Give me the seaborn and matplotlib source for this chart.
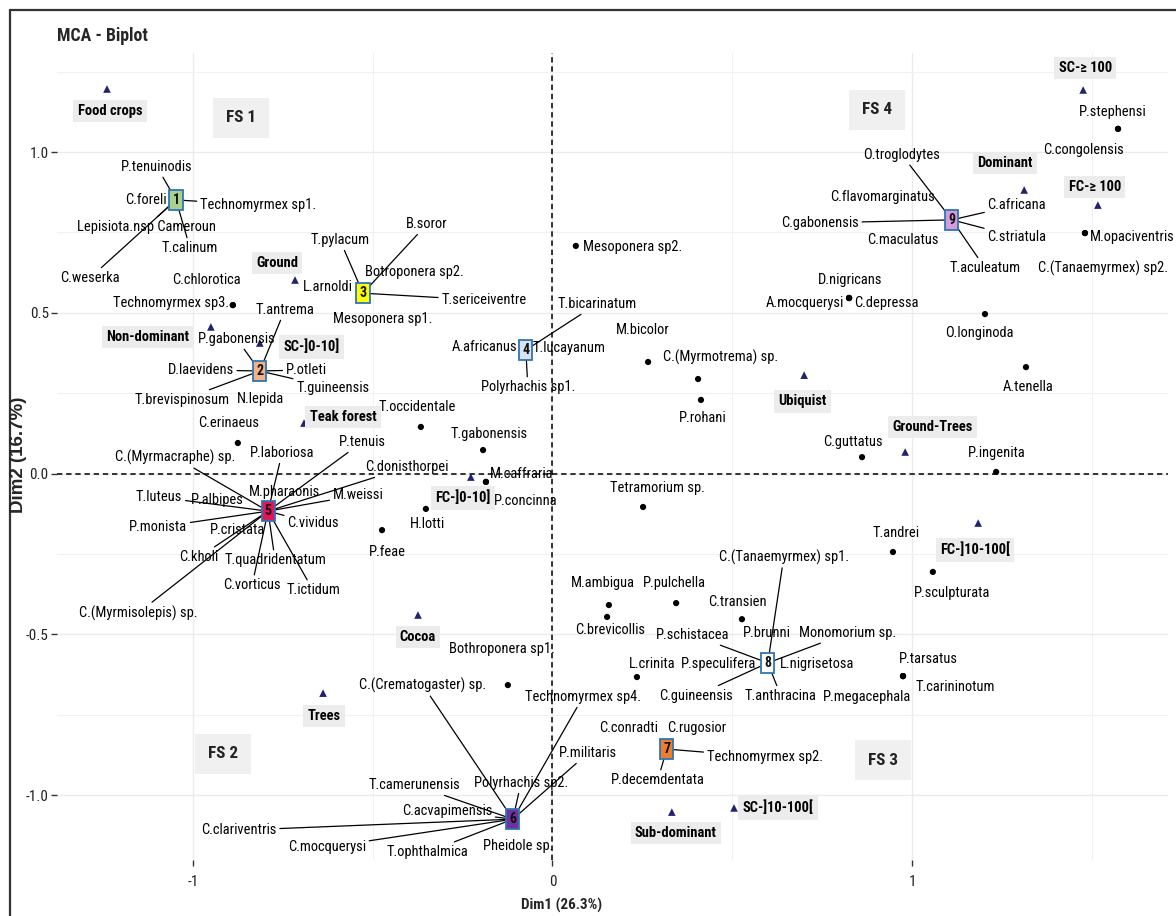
import numpy as np
import pandas as pd
import matplotlib
matplotlib.use("Agg")
import matplotlib.pyplot as plt
import seaborn as sns
from matplotlib import font_manager as fm
from matplotlib.lines import Line2D

# ---------------- data ----------------
# supplementary categories (triangles)
sup_names = ["Food crops", "Ground", "Non-dominant", "SC-]0-10]", "Teak forest", "FC-]0-10]",
             "Cocoa", "Trees", "Ubiquist", "Ground-Trees", "FC-]10-100[", "Sub-dominant",
             "SC-]10-100[", "Dominant", "FC-≥ 100", "SC-≥ 100"]
sup_dim1 = [-1.239, -0.716, -0.950, -0.814, -0.691, -0.227, -0.374, -0.638,
            0.700, 0.981, 1.184, 0.332, 0.505, 1.312, 1.517, 1.476]
sup_dim2 = [1.196, 0.602, 0.456, 0.406, 0.157, -0.011, -0.440, -0.683,
            0.306, 0.067, -0.154, -1.053, -1.040, 0.882, 0.835, 1.193]

# individual species points (dots)
sp_names = ["Technomyrmex sp3.", "C.chlorotica", "C.erinaeus", "T.occidentale", "T.gabonensis",
            "M.caffraria", "P.concinna", "H.lotti", "P.feae", "Mesoponera sp2.", "M.bicolor",
            "C.(Myrmotrema) sp.", "P.rohani", "Tetramorium sp.", "A.mocquerysi", "D.nigricans",
            "C.depressa", "O.longinoda", "A.tenella", "C.guttatus", "P.ingenita", "T.andrei",
            "P.sculpturata", "P.stephensi", "C.congolensis", "M.opaciventris",
            "C.(Tanaemyrmex) sp2.", "M.ambigua", "C.brevicollis", "P.pulchella", "C.transien",
            "L.crinita", "Bothroponera sp1.", "P.tarsatus", "T.carininotum", "P.megacephala"]
sp_dim1 = [-0.889, -0.889, -0.875, -0.366, -0.193, -0.185, -0.185, -0.352, -0.474, 0.065,
           0.266, 0.405, 0.413, 0.252, 0.825, 0.825, 0.825, 1.203, 1.317, 0.861, 1.234,
           0.947, 1.058, 1.573, 1.573, 1.481, 1.481, 0.157, 0.152, 0.344, 0.527, 0.235,
           -0.124, 0.975, 0.975, 0.975]
sp_dim2 = [0.524, 0.524, 0.095, 0.145, 0.073, -0.026, -0.026, -0.110, -0.176, 0.708,
           0.347, 0.294, 0.229, -0.104, 0.546, 0.546, 0.546, 0.496, 0.331, 0.051, 0.005,
           -0.244, -0.306, 1.072, 1.072, 0.748, 0.748, -0.409, -0.446, -0.403, -0.453,
           -0.633, -0.658, -0.630, -0.630, -0.630]

# cluster centres (numbered squares)
cl_ids = [1, 2, 3, 4, 5, 6, 7, 8, 9]
cl_dim1 = [-1.047, -0.814, -0.527, -0.074, -0.791, -0.110, 0.318, 0.599, 1.111]
cl_dim2 = [0.851, 0.319, 0.561, 0.384, -0.117, -1.075, -0.857, -0.589, 0.789]

# species attached to each cluster
cl_members = {
    1: ["P.tenuinodis", "C.foreli", "Technomyrmex sp1.", "Lepisiota.nsp Cameroun", "T.calinum",
        "C.weserka"],
    2: ["T.antrema", "P.gabonensis", "D.laevidens", "P.otleti", "T.guineensis",
        "T.brevispinosum", "N.lepida"],
    3: ["T.pylacum", "B.soror", "Botroponera sp2.", "L.arnoldi", "T.sericeiventre",
        "Mesoponera sp1."],
    4: ["T.bicarinatum", "A.africanus", "T.lucayanum", "Polyrhachis sp1."],
    5: ["C.(Myrmacraphe) sp.", "P.laboriosa", "P.tenuis", "C.donisthorpei", "M.pharaonis",
        "M.weissi", "T.luteus", "P.albipes", "P.monista", "P.cristata", "C.vividus", "C.kholi",
        "T.quadridentatum", "C.vorticus", "T.ictidum", "C.(Myrmisolepis) sp."],
    6: ["C.(Crematogaster) sp.", "Technomyrmex sp4.", "P.militaris", "Polyrhachis sp2.",
        "T.camerunensis", "C.acvapimensis", "C.clariventris", "C.mocquerysi", "T.ophthalmica",
        "Pheidole sp."],
    7: ["C.conradti", "C.rugosior", "Technomyrmex sp2.", "P.decemdentata"],
    8: ["C.(Tanaemyrmex) sp1.", "P.schistacea", "P.brunni", "Monomorium sp.", "P.speculifera",
        "L.nigrisetosa", "T.anthracina", "C.guineensis"],
    9: ["O.troglodytes", "C.flavomarginatus", "C.gabonensis", "C.maculatus", "C.africana",
        "C.striatula", "T.aculeatum"],
}

fs_names = ["FS 1", "FS 2", "FS 3", "FS 4"]
fs_dim1 = [-0.866, -0.917, 0.919, 0.903]
fs_dim2 = [1.106, -0.872, -0.891, 1.131]

# ---------------- layout (label offsets in pixels: dx right, dy down, ha, segment) ----
sup_off = [(3, 22), (-18, -17), (-63, 10), (52, 4), (39, -6), (-8, 21), (0, 22), (1, 23),
           (-2, 26), (27, -25), (-3, 27), (4, 21), (44, 0), (-19, -27), (-3, -18), (2, -22)]

sp_off = [(-4, -2, 'r'), (-26, -25, 'c'), (-9, -20, 'c'), (-4, -20, 'c'), (6, -16, 'c'),
          (36, -8, 'c'), (40, 19, 'c'), (2, 15, 'c'), (5, 22, 'c'), (7, 1, 'l'),
          (-5, -32, 'c'), (22, -22, 'c'), (2, 18, 'c'), (14, -19, 'c'), (-5, 5, 'r'),
          (1, -18, 'c'), (5, 5, 'l'), (-6, 19, 'c'), (2, 20, 'c'), (-9, -15, 'c'),
          (1, -19, 'c'), (3, -19, 'c'), (19, 21, 'c'), (-5, -17, 'c'), (-35, 21, 'c'),
          (5, 4, 'l'), (18, 35, 'c'), (-6, -22, 'c'), (3, 13, 'c'), (-2, -20, 'c'),
          (-4, -17, 'c'), (15, -13, 'c'), (-6, -36, 'c'), (25, -17, 'c'), (52, 11, 'c'),
          (-36, 21, 'c')]

mem_off = {
    1: [(-19, -33, 'c', 1), (-9, 0, 'r', 0), (24, 5, 'l', 1), (-30, 27, 'c', 1),
        (14, 48, 'c', 1), (-86, 78, 'c', 1)],
    2: [(25, -61, 'c', 1), (-23, -32, 'c', 1), (-26, -1, 'r', 1), (26, -1, 'l', 1),
        (73, 17, 'c', 1), (-78, 29, 'c', 1), (1, 28, 'c', 0)],
    3: [(-23, -53, 'c', 1), (64, -69, 'c', 1), (2, -21, 'l', 0), (-10, -6, 'r', 0),
        (121, 7, 'c', 1), (20, 26, 'c', 0)],
    4: [(71, -46, 'c', 1), (-9, -3, 'r', 0), (7, -2, 'l', 0), (2, 37, 'c', 1)],
    5: [(-93, -54, 'c', 1), (14, -58, 'c', 1), (94, -69, 'c', 1), (139, -44, 'c', 1),
        (16, -19, 'c', 0), (90, -16, 'c', 1), (-109, -14, 'c', 1), (-51, -11, 'c', 0),
        (-110, 16, 'c', 1), (-31, 19, 'c', 0), (45, 12, 'c', 1), (-69, 46, 'c', 1),
        (7, 49, 'c', 1), (-16, 74, 'c', 1), (45, 79, 'c', 1), (-130, 102, 'c', 1)],
    6: [(-90, -134, 'c', 1), (70, -122, 'c', 1), (75, -66, 'c', 1), (8, -36, 'c', 1),
        (-98, -34, 'c', 1), (-66, -8, 'c', 1), (-274, 11, 'c', 1), (-186, 28, 'c', 1),
        (-85, 33, 'c', 1), (5, 27, 'c', 0)],
    7: [(-38, -21, 'c', 0), (30, -21, 'c', 0), (98, 8, 'c', 1), (-9, 31, 'c', 1)],
    8: [(16, -106, 'c', 1), (-75, -28, 'c', 1), (-1, -30, 'c', 0), (80, -30, 'c', 1),
        (-49, 1, 'c', 0), (49, 1, 'c', 0), (13, 33, 'c', 1), (-72, 33, 'c', 1)],
    9: [(-50, -65, 'c', 1), (-69, -23, 'c', 0), (-132, 3, 'c', 1), (-49, 20, 'c', 0),
        (65, -15, 'c', 1), (65, 17, 'c', 1), (33, 48, 'c', 1)],
}

cl_colors = ["#a9d18e", "#f4b183", "#ffff00", "#dae3f3", "#e3165b", "#7030a0",
             "#ed7d31", "#ffffff", "#d99ad9"]

# ---------------- style ----------------
sns.set_theme(style="white")
names = {f.name for f in fm.fontManager.ttflist}
if "Liberation Sans Narrow" in names:
    FAM = ["Liberation Sans Narrow", "DejaVu Sans"]
    K = 1.0
elif "Arial Narrow" in names:
    FAM = ["Arial Narrow", "DejaVu Sans"]
    K = 1.0
elif "Roboto Condensed" in names:
    FAM = ["Roboto Condensed", "DejaVu Sans"]
    K = 0.95
else:
    FAM = ["Liberation Sans", "DejaVu Sans"]
    K = 0.86
plt.rcParams["font.family"] = FAM

LAB = 11.0 * K
BLD = 11.0 * K

W, H = 1176, 916
fig = plt.figure(figsize=(W / 100, H / 100), dpi=100)
fig.patch.set_facecolor("white")
ax = fig.add_axes([57 / W, (H - 860) / H, (1168 - 57) / W, (860 - 53) / H])
ax.set_facecolor("white")
ax.set_xlim(-1.378, 1.712)
ax.set_ylim(-1.202, 1.308)

ax.set_xticks([-1, 0, 1])
ax.set_xticklabels(["-1", "0", "1"])
ax.set_xticks([-0.5, 0.5, 1.5], minor=True)
ax.set_yticks([-1.0, -0.5, 0.0, 0.5, 1.0])
ax.set_yticklabels(["-1.0", "-0.5", "0.0", "0.5", "1.0"])
ax.set_yticks([-0.75, -0.25, 0.25, 0.75, 1.25], minor=True)
ax.grid(True, which="major", color="#ebebeb", lw=1.0, zorder=0)
ax.grid(True, which="minor", color="#f1f1f1", lw=0.8, zorder=0)
ax.set_axisbelow(True)
for s in ax.spines.values():
    s.set_visible(False)
ax.tick_params(which="major", length=4, width=1, color="#333333", labelsize=11.5 * K,
               labelcolor="#222222", bottom=True, left=True)
ax.tick_params(axis="x", which="major", pad=7)
ax.tick_params(axis="y", which="major", pad=2)
ax.tick_params(which="minor", length=0)

ax.axhline(0, color="black", lw=1.1, ls=(0, (3.5, 2.5)), zorder=1)
ax.axvline(0, color="black", lw=1.1, ls=(0, (3.5, 2.5)), zorder=1)

# points
df_sp = pd.DataFrame({"Dim1": sp_dim1, "Dim2": sp_dim2, "name": sp_names})
sns.scatterplot(data=df_sp, x="Dim1", y="Dim2", color="black", s=20, edgecolor="none",
                ax=ax, zorder=4, legend=False)
df_sup = pd.DataFrame({"Dim1": sup_dim1, "Dim2": sup_dim2, "name": sup_names})
sns.scatterplot(data=df_sup, x="Dim1", y="Dim2", marker="^", color="#22226e", s=30,
                edgecolor="none", ax=ax, zorder=4, legend=False)
ax.set_xlabel("")
ax.set_ylabel("")

HA = {"c": "center", "l": "left", "r": "right"}


def put(text, x, y, dx, dy, ha="c", seg=False, bold=False, box=False, size=LAB):
    kw = dict(xy=(x, y), xytext=(dx, -dy), textcoords="offset pixels",
              ha=HA[ha], va="center", fontsize=size, color="black",
              fontweight="bold" if bold else "normal", zorder=5, annotation_clip=False)
    if box:
        kw["bbox"] = dict(boxstyle="square,pad=0.3", fc="#ececec", ec="none")
    if seg:
        kw["arrowprops"] = dict(arrowstyle="-", color="black", lw=0.9,
                                shrinkA=0, shrinkB=0)
    ax.annotate(text, **kw)


for n, x, y, o in zip(sup_names, sup_dim1, sup_dim2, sup_off):
    put(n, x, y, o[0], o[1], bold=True, box=True, size=BLD)

for n, x, y, o in zip(sp_names, sp_dim1, sp_dim2, sp_off):
    put(n, x, y, o[0], o[1], ha=o[2])

for cid, cx, cy, col in zip(cl_ids, cl_dim1, cl_dim2, cl_colors):
    for n, o in zip(cl_members[cid], mem_off[cid]):
        put(n, cx, cy, o[0], o[1], ha=o[2], seg=bool(o[3]))

for cid, cx, cy, col in zip(cl_ids, cl_dim1, cl_dim2, cl_colors):
    ax.text(cx, cy, str(cid), ha="center", va="center", fontsize=10.5 * K, fontweight="bold",
            color="#111111", zorder=7,
            bbox=dict(boxstyle="square,pad=0.22", fc=col, ec="#2e75b6", lw=1.3))

for n, x, y in zip(fs_names, fs_dim1, fs_dim2):
    ax.text(x, y, n, ha="center", va="center", fontsize=13 * K, fontweight="bold",
            color="#222222", zorder=5,
            bbox=dict(boxstyle="square,pad=0.75", fc="#f0f0f0", ec="none"))

# titles
fig.text(57 / W, 1 - 36 / H, "MCA - Biplot", fontsize=13.5 * K, fontweight="bold",
         ha="left", va="center")
fig.text(562 / W, 1 - 905 / H, "Dim1 (26.3%)", fontsize=11.5 * K, fontweight="bold",
         ha="center", va="center")
fig.text(19 / W, 1 - 455 / H, "Dim2 (16.7%)", fontsize=13.5, fontweight="bold",
         ha="center", va="center", rotation=90, family=["Liberation Sans", "DejaVu Sans"])

# outer frame (left and top edges visible)
fig.add_artist(Line2D([10 / W, 10 / W], [0, 1 - 10 / H], color="#333333", lw=1.6,
                      transform=fig.transFigure))
fig.add_artist(Line2D([10 / W, 1], [1 - 10 / H, 1 - 10 / H], color="#333333", lw=1.6,
                      transform=fig.transFigure))

fig.savefig("out.png", dpi=100, facecolor="white")
